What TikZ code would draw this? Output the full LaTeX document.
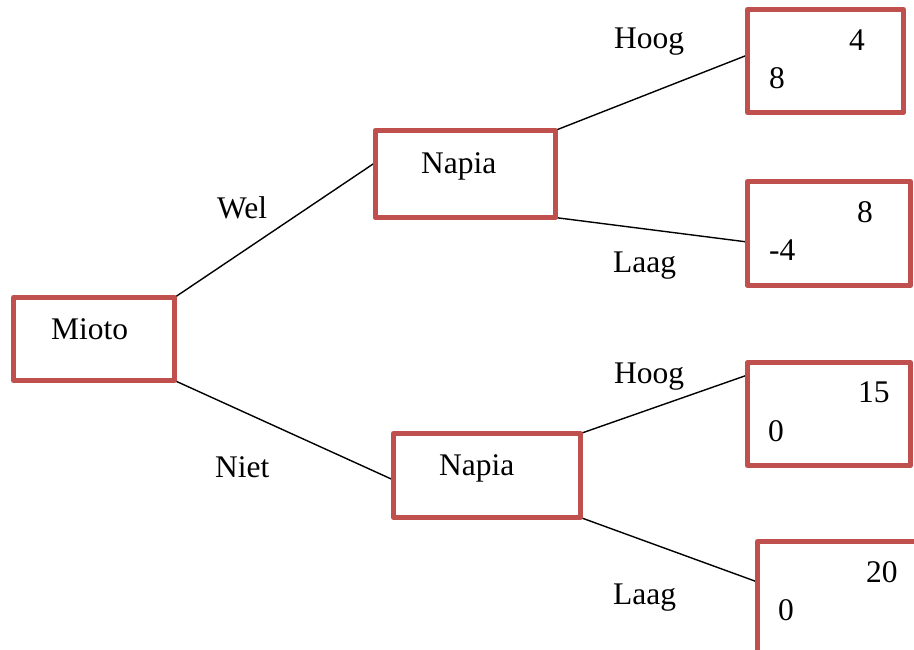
\documentclass[tikz,border=0pt]{standalone}
\usepackage{fontspec}
\setmainfont{Liberation Serif}
\usetikzlibrary{backgrounds}
\definecolor{boxred}{HTML}{C0504D}
\begin{document}
\begin{tikzpicture}[x=1pt,y=-1pt,
  boxn/.style={draw=boxred,line width=5pt,rectangle,inner sep=0pt,outer sep=0pt,line join=round,fill=none},
  txt/.style={anchor=base west,inner sep=0pt,font=\fontsize{31.5}{37}\selectfont},
  conn/.style={draw=black,line width=1.4pt}]
\clip (0,0) rectangle (914,649);
\node[boxn,minimum width=161pt,minimum height=83pt] (mioto) at (94,339) {};
\node[boxn,minimum width=180pt,minimum height=87pt] (napa) at (465,174) {};
\node[boxn,minimum width=187pt,minimum height=84pt] (napb) at (487,475.5) {};
\node[boxn,minimum width=156pt,minimum height=103pt] (ra) at (825.5,61) {};
\node[boxn,minimum width=163pt,minimum height=104pt] (rb) at (829,233.5) {};
\node[boxn,minimum width=163pt,minimum height=103pt] (rc) at (829,414) {};
\node[boxn,minimum width=167.5pt,minimum height=123.5pt] (rd) at (841.25,603.25) {};
\node[txt] (tmioto) at (51,339) {Mioto};
\node[txt] (tnapa) at (421,173) {Napia};
\node[txt] (tnapb) at (439,475) {Napia};
\node[txt] (ra1) at (849,50) {4};
\node[txt] (ra2) at (769,88) {8};
\node[txt] (rb1) at (857,222) {8};
\node[txt] (rb2) at (769,260) {-4};
\node[txt] (rc1) at (858,402) {15};
\node[txt] (rc2) at (768,441) {0};
\node[txt] (rd1) at (866,582) {20};
\node[txt] (rd2) at (778,620) {0};
\node[txt] (lwel) at (217,218) {Wel};
\node[txt] (lniet) at (215,477) {Niet};
\node[txt] (lhoog1) at (614,48) {Hoog};
\node[txt] (llaag1) at (613,272) {Laag};
\node[txt] (lhoog2) at (614,383) {Hoog};
\node[txt] (llaag2) at (613,604) {Laag};
\begin{scope}[on background layer]
\draw[conn] (mioto.north east) -- ([yshift=11.3pt]napa.west);
\draw[conn] (mioto.south east) -- ([yshift=-4.5pt]napb.west);
\draw[conn] (napa.north east) -- ([yshift=6pt]ra.west);
\draw[conn] (napa.south east) -- ([yshift=-8.5pt]rb.west);
\draw[conn] (napb.north east) -- ([yshift=39pt]rc.west);
\draw[conn] (napb.south east) -- ([yshift=21.25pt]rd.west);
\end{scope}
\end{tikzpicture}
\end{document}
